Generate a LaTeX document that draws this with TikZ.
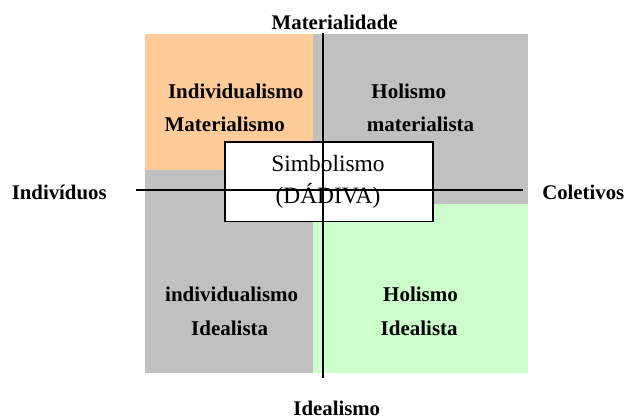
\documentclass[tikz,border=0pt]{standalone}
\usepackage{fontspec}
\setmainfont{Liberation Serif}
\definecolor{peach}{HTML}{FFCC99}
\definecolor{quadgrey}{HTML}{C0C0C0}
\definecolor{mint}{HTML}{CCFFCC}
\begin{document}
\begin{tikzpicture}[x=1pt,y=-1pt,
  axislabel/.style={font=\bfseries\fontsize{20.8}{25}\selectfont, anchor=base, inner sep=0pt},
  quadlabel/.style={font=\bfseries\fontsize{21}{25}\selectfont, anchor=base, inner sep=0pt},
  boxlabel/.style={font=\fontsize{23.4}{28}\selectfont, anchor=base, inner sep=0pt},
  axis/.style={draw=black, line width=1.6pt},
  centerbox/.style={draw=black, fill=white, line width=1.6pt}]
\useasboundingbox (0,0) rectangle (626,419);

% quadrant backgrounds
\fill[quadgrey] (145,34) rectangle (528,373);
\fill[peach] (145,34) rectangle (312.7,170);
\fill[mint] (312.7,204) rectangle (528,373);

% quadrant texts
\node[quadlabel] (iml1) at (235.7,98.3) {Individualismo};
\node[quadlabel] (iml2) at (224.7,131.7) {Materialismo};
\node[quadlabel] (hml1) at (408.8,98.3) {Holismo};
\node[quadlabel] (hml2) at (420.5,131.7) {materialista};
\node[quadlabel] (iid1) at (231.7,301.7) {individualismo};
\node[quadlabel] (iid2) at (229.7,335.7) {Idealista};
\node[quadlabel] (hid1) at (420.5,301.7) {Holismo};
\node[quadlabel] (hid2) at (419.2,335.7) {Idealista};

% central box
\draw[centerbox] (225,142) rectangle (432.7,221.7);
\node[boxlabel] (simb) at (328,171.7) {Simbolismo};
\node[boxlabel] (dadiva) at (328,204) {(DÁDIVA)};

% axes
\coordinate (top) at (322.7,33);
\coordinate (bottom) at (322.7,378);
\coordinate (left) at (136,190);
\coordinate (right) at (523,190);
\draw[axis] (top) -- (bottom);
\draw[axis] (left) -- (right);

% axis labels
\node[axislabel] (mat) at (334.7,30) {Materialidade};
\node[axislabel] (ide) at (336.8,415.7) {Idealismo};
\node[axislabel] (ind) at (59.2,199.3) {Indivíduos};
\node[axislabel] (col) at (583.3,199.3) {Coletivos};
\end{tikzpicture}
\end{document}
